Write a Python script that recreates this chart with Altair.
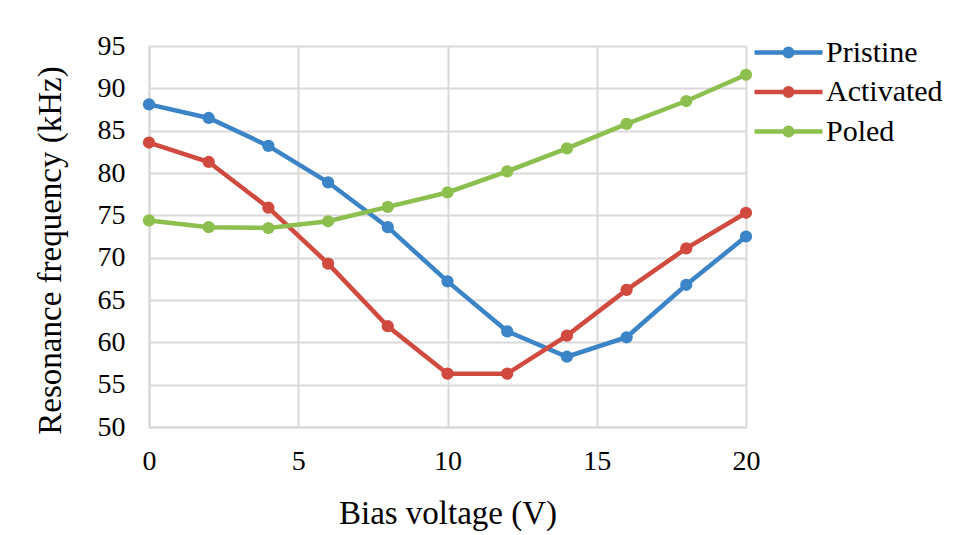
import altair as alt
import pandas as pd

voltage = [0, 2, 4, 6, 8, 10, 12, 14, 16, 18, 20]
pristine = [88.1, 86.5, 83.2, 78.9, 73.6, 67.2, 61.3, 58.3, 60.6, 66.8, 72.5]
activated = [83.6, 81.3, 75.9, 69.3, 61.9, 56.3, 56.3, 60.8, 66.2, 71.1, 75.3]
poled = [74.4, 73.6, 73.5, 74.3, 76.0, 77.7, 80.2, 82.9, 85.8, 88.5, 91.6]

series_names = ["Pristine", "Activated", "Poled"]
series_colors = ["#3B84C7", "#D14A3F", "#8DBF4F"]

rows = []
for name, vals in zip(series_names, [pristine, activated, poled]):
    for v, f in zip(voltage, vals):
        rows.append({"voltage": v, "freq": f, "series": name})
df = pd.DataFrame(rows)

FONT = "Liberation Serif"

sym_path = ("M-2,0L2,0M0.22,0A0.22,0.22,0,1,1,-0.22,0"
            "A0.22,0.22,0,1,1,0.22,0Z")

color = alt.Color(
    "series:N",
    scale=alt.Scale(domain=series_names, range=series_colors),
    sort=series_names,
    legend=alt.Legend(
        title=None,
        orient="none",
        legendX=620,
        legendY=-13,
        symbolType=sym_path,
        symbolSize=1156,
        symbolStrokeWidth=4.5,
        labelFont=FONT,
        labelFontSize=30,
        labelColor="#000000",
        labelOffset=18,
        rowPadding=4.5,
        padding=0,
        labelLimit=300,
    ),
)

x = alt.X(
    "voltage:Q",
    scale=alt.Scale(domain=[0, 20], nice=False),
    axis=alt.Axis(
        title="Bias voltage (V)",
        values=[0, 5, 10, 15, 20],
        format="d",
        tickSize=0,
        ticks=False,
        labelFlush=False,
        labelPadding=42,
        labelBaseline="alphabetic",
        labelFont=FONT,
        labelFontSize=28,
        labelColor="#000000",
        titleFont=FONT,
        titleFontSize=33,
        titleFontWeight="normal",
        titleColor="#000000",
        titleBaseline="alphabetic",
        titleY=96,
        domainColor="#D9D9D9",
        domainWidth=2,
        gridColor="#D9D9D9",
        gridWidth=2,
    ),
)

y = alt.Y(
    "freq:Q",
    scale=alt.Scale(domain=[50, 95], nice=False, zero=False),
    axis=alt.Axis(
        title="Resonance frequency (kHz)",
        values=[50, 55, 60, 65, 70, 75, 80, 85, 90, 95],
        tickSize=0,
        ticks=False,
        labelPadding=24,
        labelFont=FONT,
        labelFontSize=28,
        labelColor="#000000",
        titleFont=FONT,
        titleFontSize=33,
        titleFontWeight="normal",
        titleColor="#000000",
        titleX=-99,
        titleY=204,
        titleBaseline="middle",
        titleAngle=-90,
        domainColor="#D9D9D9",
        domainWidth=2,
        gridColor="#D9D9D9",
        gridWidth=2,
    ),
)

base = alt.Chart(df)
lines = base.mark_line(strokeWidth=4.5).encode(x=x, y=y, color=color, detail="series:N")
points = base.mark_point(filled=True, size=150, opacity=1).encode(x=x, y=y, color=color)

chart = (
    alt.layer(lines, points)
    .properties(
        width=597,
        height=381,
        autosize=alt.AutoSizeParams(type="none"),
        padding={"left": 141, "top": 38, "right": 200, "bottom": 104},
    )
    .configure_view(stroke=None)
)

chart.save("out.html", embed_options={"renderer": "svg", "actions": False})
